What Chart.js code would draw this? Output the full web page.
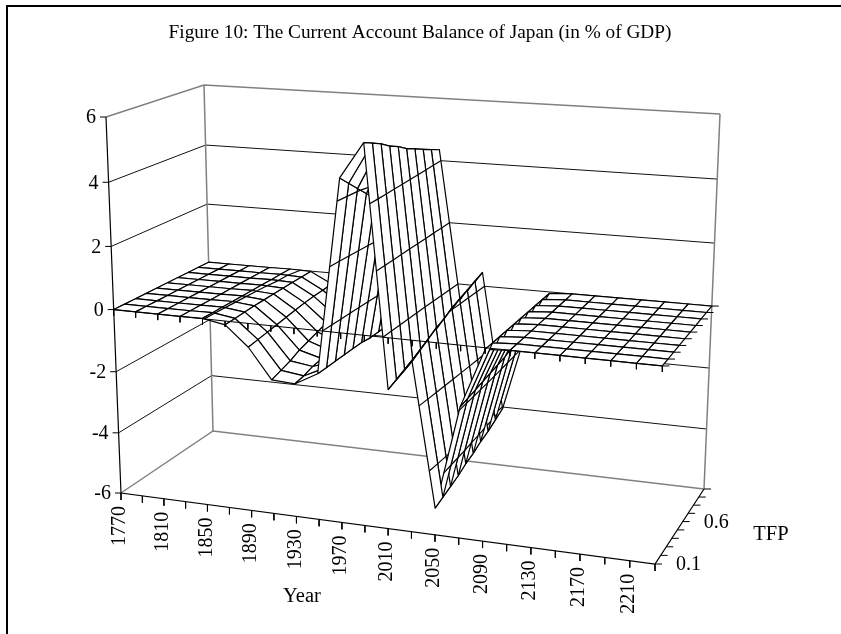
<!DOCTYPE html>
<html>
<head>
<meta charset="utf-8">
<title>Figure 10</title>
<script src="https://cdn.jsdelivr.net/npm/chart.js@4"></script>
<style>
  html, body { margin: 0; padding: 0; background: #fff; overflow: hidden; }
  #frame { position: absolute; left: 6px; top: 5px; right: -4px; bottom: -4px; border-left: 2px solid #000; border-top: 2px solid #000; }
  #surface { position: absolute; left: 0; top: 0; }
</style>
</head>
<body>
<div id="frame"></div>
<canvas id="surface" width="841" height="634"></canvas>
<script>
// Categories
const years = [1770, 1790, 1810, 1830, 1850, 1870, 1890, 1910, 1930, 1950, 1970, 1990,
               2010, 2030, 2050, 2070, 2090, 2110, 2130, 2150, 2170, 2190, 2210, 2230];
const tfpValues = [0.1, 0.2, 0.3, 0.4, 0.5, 0.6, 0.7, 0.8, 0.9, 1.0];
const valueTicks = [6, 4, 2, 0, -2, -4, -6];
const yearLabels = [1770, 1810, 1850, 1890, 1930, 1970, 2010, 2050, 2090, 2130, 2170, 2210];
const tfpLabels = [0.1, 0.6];

// Current account in % of GDP, one list per TFP row
const tfp01 = [0, 0, 0, 0, 0.01, -0.12, -0.75, -1.7, -1.75, -1.35, 4.7, 5.8, -1.6, -0.65, -5.15, -1.9, -0.05, 0, 0, 0, 0, 0, 0, 0];
const tfp02 = [0, 0, 0, 0, 0.01, -0.10, -0.70, -1.6, -1.7, -1.35, 4.4, 5.65, -1.5, -0.5, -5.05, -1.85, -0.05, 0, 0, 0, 0, 0, 0, 0];
const tfp03 = [0, 0, 0, 0, 0.01, -0.08, -0.65, -1.5, -1.6, -1.35, 4.1, 5.5, -1.4, -0.35, -4.95, -1.8, -0.05, 0, 0, 0, 0, 0, 0, 0];
const tfp04 = [0, 0, 0, 0, 0.01, -0.06, -0.60, -1.35, -1.55, -1.35, 3.8, 5.3, -1.3, -0.2, -4.85, -1.75, -0.05, 0, 0, 0, 0, 0, 0, 0];
const tfp05 = [0, 0, 0, 0, 0.01, -0.05, -0.55, -1.25, -1.5, -1.35, 3.5, 5.15, -1.2, -0.1, -4.7, -1.7, -0.05, 0, 0, 0, 0, 0, 0, 0];
const tfp06 = [0, 0, 0, 0, 0.01, -0.04, -0.50, -1.15, -1.45, -1.35, 3.2, 4.95, -1.05, 0.05, -4.6, -1.65, -0.05, 0, 0, 0, 0, 0, 0, 0];
const tfp07 = [0, 0, 0, 0, 0.01, -0.03, -0.45, -1.05, -1.4, -1.4, 2.9, 4.8, -0.95, 0.15, -4.45, -1.6, -0.05, 0, 0, 0, 0, 0, 0, 0];
const tfp08 = [0, 0, 0, 0, 0.01, -0.02, -0.42, -1.0, -1.3, -1.4, 2.6, 4.65, -0.8, 0.25, -4.35, -1.5, -0.05, 0, 0, 0, 0, 0, 0, 0];
const tfp09 = [0, 0, 0, 0, 0.01, -0.02, -0.40, -0.95, -1.25, -1.4, 2.3, 4.5, -0.7, 0.35, -4.2, -1.45, -0.05, 0, 0, 0, 0, 0, 0, 0];
const tfp10 = [0, 0, 0, 0, 0.01, -0.01, -0.38, -0.9, -1.2, -1.4, 2.0, 4.35, -0.55, 0.45, -4.05, -1.4, -0.05, 0, 0, 0, 0, 0, 0, 0];
const rows = [tfp01, tfp02, tfp03, tfp04, tfp05, tfp06, tfp07, tfp08, tfp09, tfp10];

const contourLevels = [-4, -2, 0, 2, 4];

// Box corners on screen: front-left, front-right, back-right, back-left
const floorBox = [[121, 493], [655, 564], [704, 489], [213, 431]];
const roofBox = [[106, 117], [670, 158], [720, 114], [204, 85]];
const yearBend = 1.09, tfpBend = 0.96, valueBend = 1.05;

function bend(t, k) {
    return t / (t + (1 - t) * k);
}
function inBox(q, u, v) {
    const x = (q[0][0] * (1 - u) + q[1][0] * u) * (1 - v) + (q[3][0] * (1 - u) + q[2][0] * u) * v;
    const y = (q[0][1] * (1 - u) + q[1][1] * u) * (1 - v) + (q[3][1] * (1 - u) + q[2][1] * u) * v;
    return [x, y];
}

// year, tfp and value to a point for the scatter scales
function project(year, tfp, value) {
    const u = bend((year - years[0]) / (years[years.length - 1] - years[0]), yearBend);
    const v = bend((tfp - tfpValues[0]) / (tfpValues[tfpValues.length - 1] - tfpValues[0]), tfpBend);
    const w = bend((value + 6) / 12, valueBend);
    const a = inBox(floorBox, u, v);
    const b = inBox(roofBox, u, v);
    return { x: a[0] + (b[0] - a[0]) * w, y: a[1] + (b[1] - a[1]) * w };
}

const datasets = [];
function addLine(points, color, width) {
    datasets.push({ data: points, showLine: true, fill: false, borderColor: color, borderWidth: width, pointRadius: 0, tension: 0, clip: false });
}
function addCell(points) {
    datasets.push({ data: points, showLine: true, fill: 'shape', backgroundColor: '#fff', borderColor: '#000', borderWidth: 1.2, borderJoinStyle: 'round', pointRadius: 0, tension: 0, clip: false });
}

const yMin = years[0], yMax = years[years.length - 1];
const tMin = tfpValues[0], tMax = tfpValues[tfpValues.length - 1];
const GRAY = '#808080', DARK = '#111';

// Walls
valueTicks.forEach(level => {
    const edge = Math.abs(level) === 6;
    addLine([project(yMin, tMin, level), project(yMin, tMax, level), project(yMax, tMax, level)], edge ? GRAY : DARK, edge ? 1.5 : 1);
});
addLine([project(yMin, tMax, 6), project(yMin, tMax, -6)], GRAY, 1.5);
addLine([project(yMax, tMax, 6), project(yMax, tMax, -6)], GRAY, 1.5);

// Box edges carrying the axes
addLine([project(yMin, tMin, 6), project(yMin, tMin, -6), project(yMax, tMin, -6), project(yMax, tMax, -6)], '#000', 1.2);
valueTicks.forEach(level => {
    const p = project(yMin, tMin, level);
    addLine([p, { x: p.x - 6, y: p.y }], '#000', 1);
});
years.forEach(year => {
    const p = project(year, tMin, -6);
    addLine([p, { x: p.x, y: p.y + 7 }], '#000', 1);
});
tfpValues.forEach(tfp => {
    const p = project(yMax, tfp, -6);
    addLine([p, { x: p.x + 7, y: p.y }], '#000', 1);
});

// One sheet cell plus its contour pieces
function drawCell(i, j) {
    const corners = [[i, j], [i + 1, j], [i + 1, j + 1], [i, j + 1]];
    const pts = corners.map(([a, b]) => project(years[a], tfpValues[b], rows[b][a]));
    addCell(pts.concat([pts[0]]));
    contourLevels.forEach(level => {
        const hits = [];
        for (let k = 0; k < 4; k++) {
            const [a1, b1] = corners[k];
            const [a2, b2] = corners[(k + 1) % 4];
            const z1 = rows[b1][a1], z2 = rows[b2][a2];
            if ((z1 - level) * (z2 - level) < 0) {
                const f = (level - z1) / (z2 - z1);
                hits.push(project(years[a1] + (years[a2] - years[a1]) * f,
                                  tfpValues[b1] + (tfpValues[b2] - tfpValues[b1]) * f, level));
            }
        }
        if (hits.length >= 2) addLine([hits[0], hits[1]], '#000', 1.2);
        if (hits.length === 4) addLine([hits[2], hits[3]], '#000', 1.2);
    });
}

// Back rows first, and in a row the outer cells first
const centerCell = 12;
for (let j = tfpValues.length - 2; j >= 0; j--) {
    for (let i = 0; i < centerCell; i++) drawCell(i, j);
    for (let i = years.length - 2; i >= centerCell; i--) drawCell(i, j);
}

// Axes at level zero run over the surface
addLine([project(yMin, tMin, 0), project(yMax, tMin, 0)], '#000', 1);
years.forEach(year => {
    const p = project(year, tMin, 0);
    addLine([p, { x: p.x, y: p.y + 6 }], '#000', 1);
});
tfpValues.forEach(tfp => {
    const p = project(yMax, tfp, 0);
    addLine([p, { x: p.x + 7, y: p.y }], '#000', 1);
});

// Chart.js paints the first dataset last
datasets.reverse();

const labelPlugin = {
    id: 'labels',
    afterDraw(chart) {
        const ctx = chart.ctx;
        const sx = chart.scales.x, sy = chart.scales.y;
        ctx.save();
        ctx.fillStyle = '#000';
        ctx.textBaseline = 'middle';

        ctx.font = '19.3px "Liberation Serif"';
        ctx.textAlign = 'center';
        ctx.fillText('Figure 10: The Current Account Balance of Japan (in % of GDP)', 420, 33);

        ctx.font = '20px "Liberation Serif"';
        ctx.textAlign = 'right';
        valueTicks.forEach(level => {
            const p = project(yMin, tMin, level);
            ctx.fillText(String(level), sx.getPixelForValue(p.x) - 10, sy.getPixelForValue(p.y) + 1);
        });

        yearLabels.forEach(year => {
            const p = project(year, tMin, -6);
            ctx.save();
            ctx.translate(sx.getPixelForValue(p.x) - 1, sy.getPixelForValue(p.y) + 13);
            ctx.rotate(-Math.PI / 2);
            ctx.textAlign = 'right';
            ctx.fillText(String(year), 0, 0);
            ctx.restore();
        });

        ctx.textAlign = 'left';
        tfpLabels.forEach(tfp => {
            const p = project(yMax, tfp, -6);
            ctx.fillText(tfp.toFixed(1), sx.getPixelForValue(p.x) + 21, sy.getPixelForValue(p.y) + 1);
        });

        ctx.font = '20.5px "Liberation Serif"';
        ctx.textAlign = 'center';
        ctx.fillText('TFP', 771, 535);
        ctx.fillText('Year', 302, 597);
        ctx.restore();
    }
};

new Chart(document.getElementById('surface').getContext('2d'), {
    type: 'scatter',
    data: { datasets: datasets },
    options: {
        responsive: false,
        animation: false,
        layout: { padding: 0 },
        scales: {
            x: { type: 'linear', display: false, min: 0, max: 841 },
            y: { type: 'linear', display: false, min: 0, max: 634, reverse: true }
        },
        plugins: {
            legend: { display: false },
            tooltip: { enabled: false },
            title: { display: false }
        }
    },
    plugins: [labelPlugin]
});
</script>
</body>
</html>
